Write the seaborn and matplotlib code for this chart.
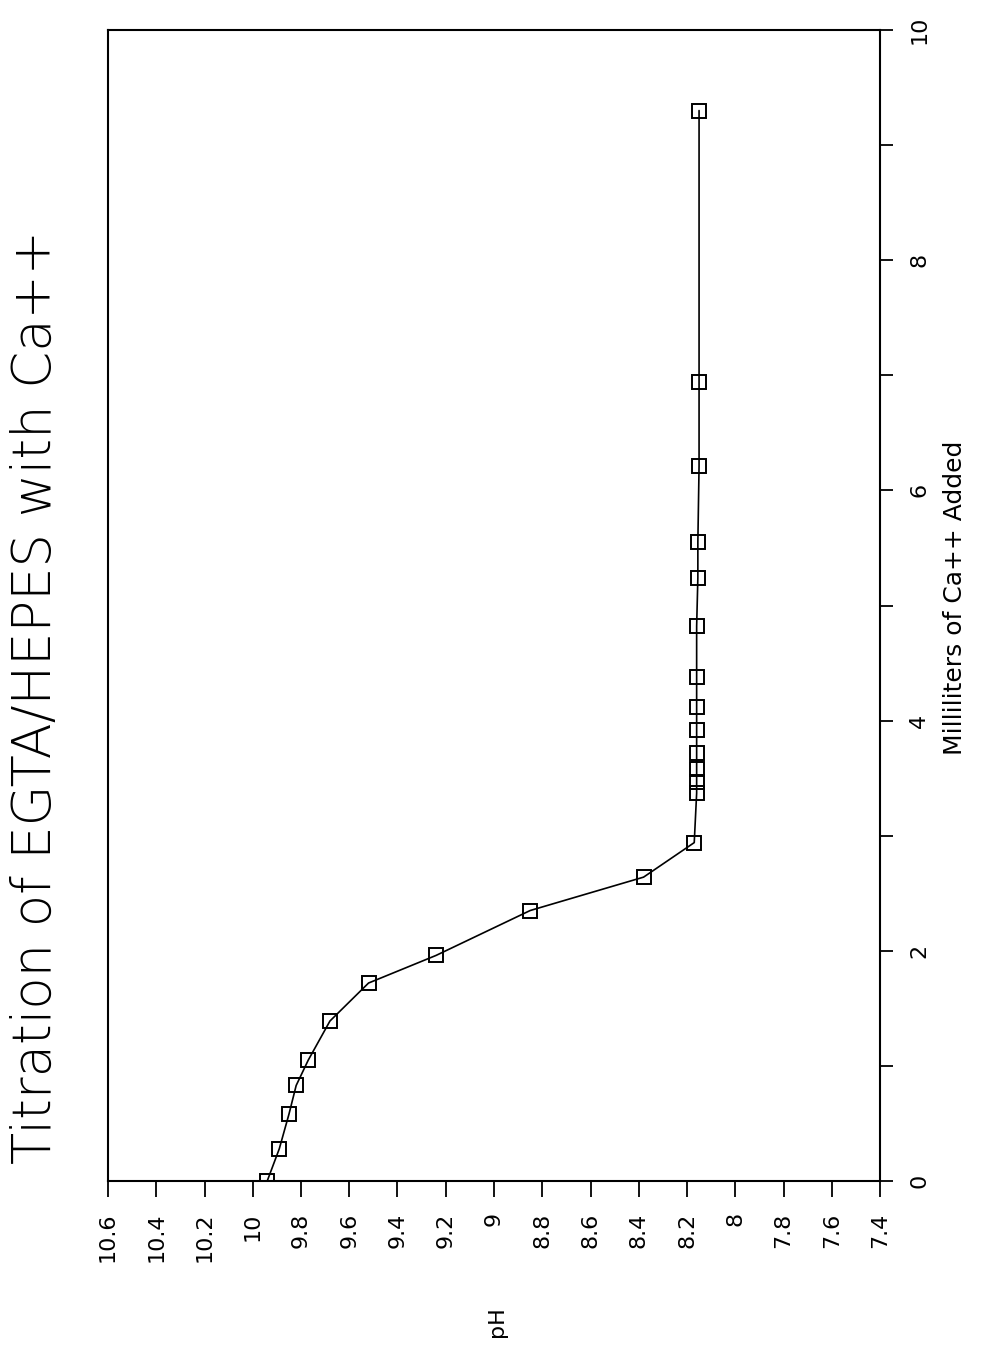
import matplotlib
matplotlib.use("Agg")
import matplotlib.pyplot as plt
import seaborn as sns
import pandas as pd

# Titration readings: volume of Ca++ solution added (ml) and measured pH
ml_added = [0.00, 0.28, 0.58, 0.83, 1.05, 1.39, 1.72, 1.96, 2.35, 2.64, 2.94,
            3.37, 3.47, 3.58, 3.72, 3.92, 4.12, 4.38, 4.82, 5.24, 5.55, 6.21,
            6.94, 9.30]
ph_values = [9.94, 9.89, 9.85, 9.82, 9.77, 9.68, 9.52, 9.24, 8.85, 8.38, 8.17,
             8.16, 8.16, 8.16, 8.16, 8.16, 8.16, 8.16, 8.16, 8.155, 8.155, 8.15,
             8.15, 8.15]

ph_ticks = [10.6, 10.4, 10.2, 10.0, 9.8, 9.6, 9.4, 9.2, 9.0, 8.8, 8.6, 8.4,
            8.2, 8.0, 7.8, 7.6, 7.4]
ph_tick_labels = ["10.6", "10.4", "10.2", "10", "9.8", "9.6", "9.4", "9.2",
                  "9", "8.8", "8.6", "8.4", "8.2", "8", "7.8", "7.6", "7.4"]
ml_ticks = [0, 1, 2, 3, 4, 5, 6, 7, 8, 9, 10]
ml_tick_labels = ["0", "", "2", "", "4", "", "6", "", "8", "", "10"]

title_text = "Titration of EGTA/HEPES with Ca++"
ml_label = "Milliliters of Ca++ Added"
ph_label = "pH"

sns.set_style("white")
plt.rcParams["font.family"] = ["DejaVu Sans"]

df = pd.DataFrame({"ml": ml_added, "pH": ph_values})

W, H = 988, 1356
fig = plt.figure(figsize=(W / 100, H / 100), dpi=100)
fig.patch.set_facecolor("white")

# Landscape plot drawn sideways: pH runs right-to-left along the bottom,
# millilitres run upward along the right-hand side.
left, right, top, bottom = 108, 880, 30, 1181
ax = fig.add_axes([left / W, (H - bottom) / H, (right - left) / W, (bottom - top) / H])

sns.lineplot(data=df, x="pH", y="ml", orient="y", sort=False, estimator=None,
             marker="s", markersize=9.5, markerfacecolor="none",
             markeredgecolor="black", markeredgewidth=1.4,
             color="black", linewidth=1.2, ax=ax)

ax.set_xlim(10.6, 7.4)
ax.set_ylim(0, 10)

for sp in ax.spines.values():
    sp.set_visible(True)
    sp.set_color("black")
    sp.set_linewidth(1.5)

ax.set_xticks(ph_ticks)
ax.set_xticklabels(ph_tick_labels, rotation=90, va="top", ha="center")
ax.tick_params(axis="x", which="both", direction="out", length=11.5, width=1.3,
               pad=11, labelsize=16, bottom=True, top=False, colors="black")

ax.yaxis.tick_right()
ax.set_yticks(ml_ticks)
ax.set_yticklabels(ml_tick_labels, rotation=90, va="center", ha="left")
ax.tick_params(axis="y", which="both", direction="out", length=9, width=1.3,
               pad=12, labelsize=16, right=True, left=False,
               labelright=True, labelleft=False, colors="black")

ax.set_xlabel("")
ax.set_ylabel("")

fig.text(36 / W, 1 - 697 / H, title_text, rotation=90, ha="center", va="center",
         fontsize=38, fontweight="light", color="black")
fig.text(955 / W, 1 - 598 / H, ml_label, rotation=90, ha="center", va="center",
         fontsize=18, color="black")
fig.text(497 / W, 1 - 1322 / H, ph_label, rotation=90, ha="center", va="center",
         fontsize=16, color="black")

fig.savefig("out.png", dpi=100, facecolor="white")
